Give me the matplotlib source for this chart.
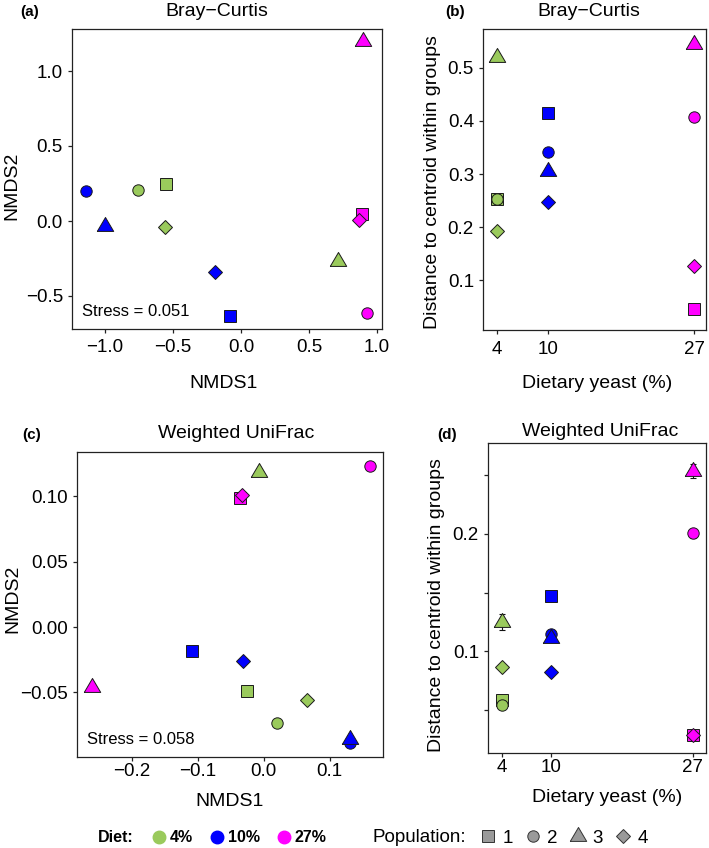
import numpy as np
import matplotlib
matplotlib.use("Agg")
import matplotlib.pyplot as plt
from matplotlib.lines import Line2D

plt.rcParams.update({
    "font.family": ["Liberation Sans", "DejaVu Sans"],
    "axes.edgecolor": "#222222",
    "axes.linewidth": 0.9,
    "xtick.color": "#222222",
    "ytick.color": "#222222",
    "xtick.labelcolor": "black",
    "ytick.labelcolor": "black",
    "xtick.major.size": 3,
    "ytick.major.size": 3,
    "xtick.major.width": 0.9,
    "ytick.major.width": 0.9,
    "xtick.labelsize": 13.5,
    "ytick.labelsize": 13.5,
    "axes.labelsize": 14,
})

# ---- data --------------------------------------------------------------
diet_labels = ["4%", "10%", "27%"]
diet_yeast = [4, 10, 27]
diet_colors = ["#9ACA5C", "#0000FF", "#FF00FF"]
pop_labels = ["1", "2", "3", "4"]

# one row per sample: diet index, population index (order: pop 1..4 within diet)
sample_diet = [0, 0, 0, 0, 1, 1, 1, 1, 2, 2, 2, 2]
sample_pop = [0, 1, 2, 3, 0, 1, 2, 3, 0, 1, 2, 3]

# (a) Bray-Curtis NMDS
bc_nmds1 = [-0.55, -0.76, 0.715, -0.56, -0.08, -1.14, -1.00, -0.19, 0.89, 0.93, 0.895, 0.87]
bc_nmds2 = [0.245, 0.21, -0.265, -0.04, -0.63, 0.20, -0.03, -0.34, 0.05, -0.61, 1.20, 0.007]
bc_stress = 0.051

# (b) Bray-Curtis distance to centroid
bc_dist = [0.253, 0.253, 0.520, 0.192, 0.414, 0.341, 0.305, 0.248, 0.047, 0.407, 0.544, 0.127]
bc_err = [0.004, 0.003, 0.002, 0.002, 0.002, 0.002, 0.002, 0.002, 0.007, 0.002, 0.002, 0.002]

# (c) Weighted UniFrac NMDS
wu_nmds1 = [-0.025, 0.020, -0.007, 0.066, -0.108, 0.131, 0.131, -0.032, -0.036, 0.162, -0.260, -0.033]
wu_nmds2 = [-0.049, -0.0736, 0.119, -0.056, -0.018, -0.089, -0.086, -0.026, 0.099, 0.123, -0.046, 0.101]
wu_stress = 0.058

# (d) Weighted UniFrac distance to centroid
wu_dist = [0.0586, 0.0543, 0.125, 0.0864, 0.147, 0.1147, 0.111, 0.0827, 0.0294, 0.2003, 0.2534, 0.0294]
wu_err = [0.002, 0.002, 0.007, 0.001, 0.001, 0.002, 0.002, 0.001, 0.001, 0.004, 0.006, 0.001]

# ---- styling -----------------------------------------------------------
TRI = [(-1, -0.6), (1, -0.6), (0, 1.1), (-1, -0.6)]
pop_markers = ["s", "o", TRI, "D"]
pop_sizes = [8.2, 8.2, 13.0, 6.8]

W, H = 709, 848
fig = plt.figure(figsize=(W / 100, H / 100), dpi=100)


def add_axes(left, top, right, bottom):
    return fig.add_axes([left / W, 1 - bottom / H, (right - left) / W, (bottom - top) / H])


def draw_points(ax, xs, ys):
    for i in range(len(xs)):
        d, p = sample_diet[i], sample_pop[i]
        ax.plot(xs[i], ys[i], linestyle="none", marker=pop_markers[p],
                ms=pop_sizes[p], mfc=diet_colors[d], mec="#1a1a1a",
                mew=0.7, zorder=3)


def draw_dist(ax, ys, errs):
    xs = [diet_yeast[d] for d in sample_diet]
    ax.errorbar(xs, ys, yerr=errs, fmt="none", ecolor="#111111",
                elinewidth=0.8, capsize=2.5, capthick=0.8, zorder=2)
    draw_points(ax, xs, ys)
    ax.set_xticks(diet_yeast)
    ax.set_xlabel("Dietary yeast (%)")
    ax.set_ylabel("Distance to centroid within groups")


# (a)
ax_a = add_axes(72, 29, 382, 329)
draw_points(ax_a, bc_nmds1, bc_nmds2)
ax_a.set_xlim(-1.243, 1.037)
ax_a.set_ylim(-0.72, 1.28)
ax_a.set_xticks([-1.0, -0.5, 0.0, 0.5, 1.0])
ax_a.set_yticks([-0.5, 0.0, 0.5, 1.0])
ax_a.set_xlabel("NMDS1")
ax_a.set_ylabel("NMDS2")
ax_a.xaxis.set_label_coords(0.49, -0.153)
ax_a.yaxis.set_label_coords(-0.165, 0.477)
ax_a.tick_params(axis="x", pad=4)
ax_a.text(0.032, 0.06, f"Stress = {bc_stress:.3f}", transform=ax_a.transAxes,
          fontsize=12, va="center", ha="left")

# (b)
ax_b = add_axes(483, 29, 706, 330)
draw_dist(ax_b, bc_dist, bc_err)
ax_b.set_xlim(2.36, 28.4)
ax_b.set_ylim(0.0066, 0.573)
ax_b.set_yticks([0.1, 0.2, 0.3, 0.4, 0.5])
ax_b.xaxis.set_label_coords(0.51, -0.15)
ax_b.yaxis.set_label_coords(-0.188, 0.493)
ax_b.tick_params(axis="x", pad=5)

# (c)
ax_c = add_axes(77, 452, 383, 757)
draw_points(ax_c, wu_nmds1, wu_nmds2)
ax_c.set_xlim(-0.283, 0.181)
ax_c.set_ylim(-0.0994, 0.134)
ax_c.set_xticks([-0.2, -0.1, 0.0, 0.1])
ax_c.set_yticks([-0.05, 0.0, 0.05, 0.10])
ax_c.set_xlabel("NMDS1")
ax_c.set_ylabel("NMDS2")
ax_c.xaxis.set_label_coords(0.5, -0.118)
ax_c.yaxis.set_label_coords(-0.183, 0.52)
ax_c.tick_params(axis="x", pad=1)
ax_c.text(0.033, 0.058, f"Stress = {wu_stress:.3f}", transform=ax_c.transAxes,
          fontsize=12, va="center", ha="left")

# (d)
ax_d = add_axes(488, 443, 706, 753)
draw_dist(ax_d, wu_dist, wu_err)
ax_d.set_xlim(2.36, 28.6)
ax_d.set_ylim(0.0138, 0.2769)
ax_d.set_yticks([0.05, 0.1, 0.15, 0.2, 0.25])
ax_d.set_yticklabels(["", "0.1", "", "0.2", ""])
ax_d.xaxis.set_label_coords(0.546, -0.116)
ax_d.yaxis.set_label_coords(-0.197, 0.477)
ax_d.tick_params(axis="x", pad=1)

# titles and panel letters
titles = [("(a)", 20, 12, "Bray\u2212Curtis", 217, 12),
          ("(b)", 445, 12, "Bray\u2212Curtis", 589, 12),
          ("(c)", 22, 435, "Weighted UniFrac", 236, 434),
          ("(d)", 437, 435, "Weighted UniFrac", 600, 432)]
for tag, tx, ty, title, cx, cy in titles:
    fig.text(tx / W, 1 - ty / H, tag, fontsize=11, fontweight="bold",
             ha="left", va="center")
    fig.text(cx / W, 1 - cy / H, title, fontsize=14, ha="center", va="center")

# legends
fig.text(98 / W, 1 - 838 / H, "Diet:", fontsize=11.5, fontweight="bold",
         ha="left", va="center")
diet_handles = [Line2D([], [], linestyle="none", marker="o", ms=9, mfc=c, mec=c)
                for c in diet_colors]
leg1 = fig.legend(diet_handles, diet_labels, loc="center left",
                  bbox_to_anchor=(152.9 / W, 1 - 838 / H), ncol=3, frameon=False,
                  prop={"size": 11.5, "weight": "bold"}, handlelength=0.8,
                  handletextpad=0.27, columnspacing=1.1, borderpad=0,
                  borderaxespad=0)

fig.text(373 / W, 1 - 838 / H, "Population:", fontsize=13.5,
         ha="left", va="center")
pop_handles = [Line2D([], [], linestyle="none", marker=m, ms=s,
                      mfc="#9a9a9a", mec="#333333", mew=0.7)
               for m, s in zip(pop_markers, pop_sizes)]
leg2 = fig.legend(pop_handles, pop_labels, loc="center left",
                  bbox_to_anchor=(480.8 / W, 1 - 838 / H), ncol=4, frameon=False,
                  prop={"size": 13.5}, handlelength=0.8, handletextpad=0.36,
                  columnspacing=0.68, borderpad=0, borderaxespad=0)

fig.savefig("out.png", dpi=100, facecolor="white")
